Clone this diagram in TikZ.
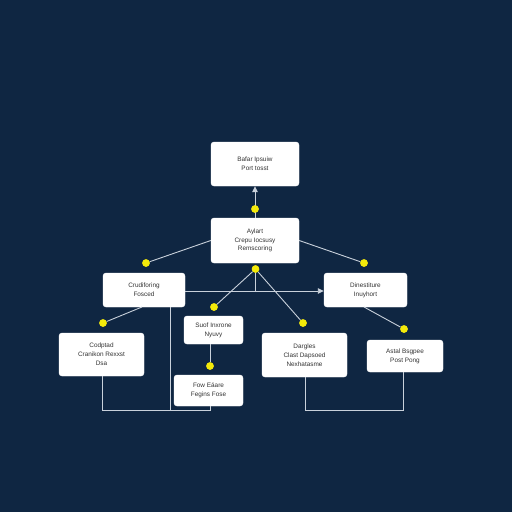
\documentclass[tikz,border=0pt]{standalone}
\usepackage{fontspec}
\setmainfont{Liberation Sans}
\usetikzlibrary{arrows.meta}
\definecolor{bg}{HTML}{0F2642}
\definecolor{wire}{HTML}{C9D1DB}
\definecolor{dotc}{HTML}{F4EA0A}
\definecolor{txt}{HTML}{333333}
\begin{document}
\begin{tikzpicture}[x=1pt,y=-1pt,
  box/.style={draw=white, fill=white, rounded corners=3pt, align=center, text=txt,
    font=\fontsize{6.4}{8.8}\selectfont, inner sep=1pt},
  wirel/.style={draw=wire, line width=0.9pt},
  tip/.style={-{Triangle[length=6pt,width=5.5pt]}},
  ydot/.style={circle, fill=dotc, minimum size=7.5pt, inner sep=0pt}]
\fill[bg] (0,0) rectangle (512,512);
\useasboundingbox (0,0) rectangle (512,512);

\node[box, minimum width=88pt, minimum height=44pt] (b1) at (255,164) {Bafar Ipsuiw\\Port tosst};
\node[box, minimum width=88pt, minimum height=45pt] (b2) at (255,240.5) {Aylart\\Crepu Iocsusy\\Remscoring};
\node[box, minimum width=82pt, minimum height=34pt] (b3) at (144,290) {Crudiforing\\Fosced};
\node[box, minimum width=83pt, minimum height=34pt] (b4) at (365.5,290) {Dinestiture\\Inuyhort};
\node[box, minimum width=59pt, minimum height=28pt] (b5) at (213.5,330) {Suof Inxrone\\Nyuvy};
\node[box, minimum width=85pt, minimum height=43pt] (b6) at (101.5,354.5) {Codptad\\Cranikon Rexxst\\Dsa};
\node[box, minimum width=85pt, minimum height=44pt] (b7) at (304.5,355) {Dargles\\Clast Dapsoed\\Nexhatasme};
\node[box, minimum width=76pt, minimum height=32pt] (b8) at (405,356) {Astal Bsgpee\\Post Pong};
\node[box, minimum width=69pt, minimum height=31pt] (b9) at (208.5,390.5) {Fow E\'aare\\Fegins Fose};

% dots
\node[ydot] (d1) at (255,209) {};
\node[ydot] (d2) at (146,263) {};
\node[ydot] (d3) at (364,263) {};
\node[ydot] (d4) at (255.5,269) {};
\node[ydot] (d5) at (214,307) {};
\node[ydot] (d6) at (303,323) {};
\node[ydot] (d7) at (103,323) {};
\node[ydot] (d8) at (404,329) {};
\node[ydot] (d9) at (210,366) {};

% helper coordinates
\coordinate (j1) at (255.5,291);
\coordinate (b3r) at (b3.east |- j1);
\coordinate (b4l) at (b4.west |- j1);
\coordinate (b3d) at (142,307);
\coordinate (b4d) at (364,307);
\coordinate (b5d) at (210,344);
\coordinate (l1) at (102,376);
\coordinate (l2) at (102,410);
\coordinate (l3) at (210,410);
\coordinate (l4) at (210,406);
\coordinate (v1) at (170,307);
\coordinate (v2) at (170,410);
\coordinate (r1) at (305,377);
\coordinate (r2) at (305,410);
\coordinate (r3) at (403,410);
\coordinate (r4) at (403,372);

\draw[wirel, tip] (b2.north) -- (b1.south);
\draw[wirel] (b2.west) -- (d2);
\draw[wirel] (b2.east) -- (d3);
\draw[wirel] (d4) -- (d5);
\draw[wirel] (d4) -- (d6);
\draw[wirel] (d4) -- (j1);
\draw[wirel, tip] (b3r) -- (b4l);
\draw[wirel] (b3d) -- (d7);
\draw[wirel] (b4d) -- (d8);
\draw[wirel] (b5d) -- (d9);
\draw[wirel] (l1) -- (l2) -- (l3) -- (l4);
\draw[wirel] (v1) -- (v2);
\draw[wirel] (r1) -- (r2) -- (r3) -- (r4);
% dots on top of the wires
\foreach \d in {d1,d2,d3,d4,d5,d6,d7,d8,d9}{\fill[dotc] (\d) circle (3.75pt);}
\end{tikzpicture}
\end{document}
